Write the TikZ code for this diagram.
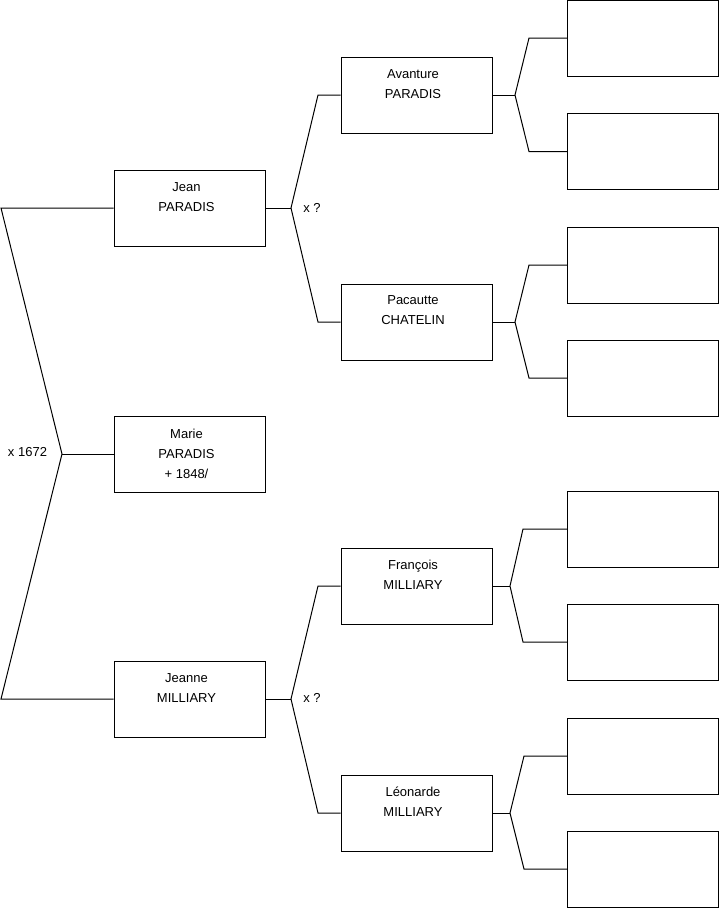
\documentclass[tikz,border=0pt]{standalone}
\usepackage{fontspec}
\setmainfont{Liberation Sans}
\begin{document}
\begin{tikzpicture}[x=1pt,y=-1pt,
  box/.style={draw=black,line width=1pt,minimum width=151pt,minimum height=76pt,inner sep=0pt,fill=white},
  txt/.style={align=center,inner sep=0pt,font=\fontsize{13}{20}\selectfont},
  conn/.style={draw=black,line width=1pt}]
\useasboundingbox (0,0) rectangle (719,908);
% generation 1
\node[box] (jean) at (189.5,208) {};
\node[box] (marie) at (189.5,454) {};
\node[box] (jeanne) at (189.5,699) {};
% generation 2
\node[box] (avanture) at (416.5,95) {};
\node[box] (pacautte) at (416.5,322) {};
\node[box] (francois) at (416.5,586) {};
\node[box] (leonarde) at (416.5,813) {};
% generation 3
\node[box] (r1) at (643,38) {};
\node[box] (r2) at (643,151.5) {};
\node[box] (r3) at (643,265) {};
\node[box] (r4) at (643,378) {};
\node[box] (r5) at (643,529) {};
\node[box] (r6) at (643,642) {};
\node[box] (r7) at (643,756) {};
\node[box] (r8) at (643,869) {};
% texts
\node[txt] at (186.5,197) {Jean\\PARADIS};
\node[txt] at (186.5,454) {Marie\\PARADIS\\+ 1848/\hspace{5pt}};
\node[txt] at (186.5,688) {Jeanne\\MILLIARY};
\node[txt] at (413,84) {Avanture\\PARADIS};
\node[txt] at (413,310) {Pacautte\\CHATELIN};
\node[txt] at (413,575) {François\\MILLIARY};
\node[txt] at (413,802) {Léonarde\\MILLIARY};
\node[txt] (m1) at (27.5,452) {x 1672};
\node[txt] (m2) at (312,208) {x ?};
\node[txt] (m3) at (312,698) {x ?};
% fork points
\coordinate (fM) at (62,454);
\coordinate (fJ) at (291,208);
\coordinate (fJn) at (291,699);
\coordinate (fA) at (515,95);
\coordinate (fP) at (515,322);
\coordinate (fF) at (510,586);
\coordinate (fL) at (510,813);
% connectors
\draw[conn] (jean.west) -- (1,208) -- (fM) -- (1,699) -- (jeanne.west);
\draw[conn] (fM) -- (marie.west);
\draw[conn] (jean.east) -- (fJ);
\draw[conn] (avanture.west) -- (318,95) -- (fJ) -- (318,322) -- (pacautte.west);
\draw[conn] (jeanne.east) -- (fJn);
\draw[conn] (francois.west) -- (318,586) -- (fJn) -- (318,813) -- (leonarde.west);
\draw[conn] (avanture.east) -- (fA);
\draw[conn] (r1.west) -- (529,38) -- (fA) -- (529,151.5) -- (r2.west);
\draw[conn] (pacautte.east) -- (fP);
\draw[conn] (r3.west) -- (529,265) -- (fP) -- (529,378) -- (r4.west);
\draw[conn] (francois.east) -- (fF);
\draw[conn] (r5.west) -- (523,529) -- (fF) -- (523,642) -- (r6.west);
\draw[conn] (leonarde.east) -- (fL);
\draw[conn] (r7.west) -- (524,756) -- (fL) -- (524,869) -- (r8.west);
\end{tikzpicture}
\end{document}
